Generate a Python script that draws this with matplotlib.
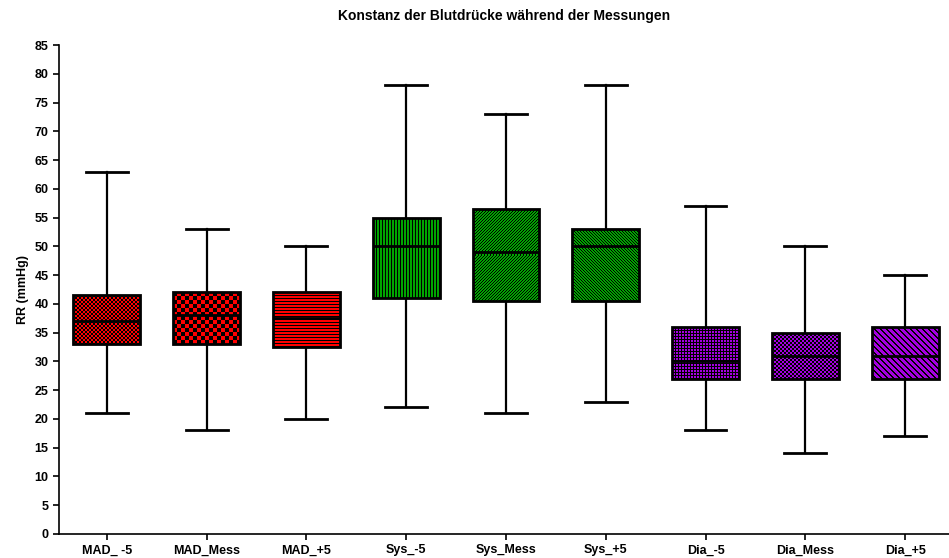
import matplotlib.pyplot as plt
import matplotlib as mpl
import numpy as np
from matplotlib.colors import to_rgba

mpl.rcParams["font.family"] = ["Liberation Sans", "DejaVu Sans"]
mpl.rcParams["font.weight"] = "bold"

# Data
labels = ["MAD_ -5", "MAD_Mess", "MAD_+5", "Sys_-5", "Sys_Mess", "Sys_+5",
          "Dia_-5", "Dia_Mess", "Dia_+5"]
whislo = [21, 18, 20, 22, 21, 23, 18, 14, 17]
q1 = [33, 33, 32.5, 41, 40.5, 40.5, 27, 27, 27]
med = [37, 38, 37.5, 50, 49, 50, 30, 31, 31]
q3 = [41.5, 42, 42, 55, 56.5, 53, 36, 35, 36]
whishi = [63, 53, 50, 78, 73, 78, 57, 50, 45]

colors = ["#ff0000"] * 3 + ["#00a400"] * 3 + ["#a400e0"] * 3
patterns = ["checker2", "checker4", "hlines", "vlines", "diag_up", "diag_down",
            "grid", "checker2", "diag_wide"]
box_width = 0.67


def pattern_image(kind, color, h, w):
    i, j = np.indices((h, w))
    if kind == "checker2":
        m = (i // 2 + j // 2) % 2 == 0
    elif kind == "checker4":
        m = (i // 4 + j // 4) % 2 == 0
    elif kind == "hlines":
        m = i % 3 == 0
    elif kind == "vlines":
        m = j % 3 == 0
    elif kind == "diag_up":
        m = (i + j) % 3 == 0
    elif kind == "diag_down":
        m = (j - i) % 3 == 0
    elif kind == "grid":
        m = (i % 3 == 0) | (j % 3 == 0)
    else:
        m = (j - i) % 6 < 2
    img = np.empty((h, w, 4))
    img[:] = to_rgba(color)
    img[m] = (0, 0, 0, 1)
    return img


stats = []
for i, lab in enumerate(labels):
    stats.append({"label": lab, "whislo": whislo[i], "q1": q1[i], "med": med[i],
                  "q3": q3[i], "whishi": whishi[i], "fliers": []})

fig = plt.figure(figsize=(9.49, 5.58), dpi=100)
ax = fig.add_axes([59 / 949, 24 / 558, 890 / 949, 489 / 558])

positions = list(range(1, len(labels) + 1))
bp = ax.bxp(stats, positions=positions, widths=box_width, patch_artist=True,
            showfliers=False,
            boxprops=dict(linewidth=2, edgecolor="black", facecolor="none", zorder=3),
            medianprops=dict(color="black", linewidth=2, zorder=4),
            whiskerprops=dict(color="black", linewidth=1.6),
            capprops=dict(color="black", linewidth=2),
            capwidths=0.42)

ax.set_xlim(0.52, 9.44)
ax.set_ylim(0, 85)

# pixel patterns inside the boxes
for k, patch in enumerate(bp["boxes"]):
    x0, x1 = positions[k] - box_width / 2, positions[k] + box_width / 2
    p0, p1 = ax.transData.transform([(x0, q1[k]), (x1, q3[k])])
    w_px = max(int(round(p1[0] - p0[0])), 1)
    h_px = max(int(round(p1[1] - p0[1])), 1)
    img = pattern_image(patterns[k], colors[k], h_px, w_px)
    im = ax.imshow(img, extent=(x0, x1, q1[k], q3[k]), interpolation="nearest",
                   aspect="auto", zorder=2)
    im.set_clip_path(patch)

ax.set_xlim(0.52, 9.44)
ax.set_ylim(0, 85)
ax.set_yticks(range(0, 86, 5))
ax.set_xticks(positions)
ax.set_xticklabels(labels)
ax.tick_params(axis="both", labelsize=9, width=1.2, length=4, direction="out")
for s in ["top", "right"]:
    ax.spines[s].set_visible(False)
for s in ["left", "bottom"]:
    ax.spines[s].set_linewidth(1.2)

ax.set_ylabel("RR (mmHg)", fontsize=9, fontweight="bold")
fig.suptitle("Konstanz der Blutdrücke während der Messungen", fontsize=10,
             fontweight="bold", y=1 - 16 / 558, va="center", x=(59 + 949) / 2 / 949)

fig.savefig("out.png", dpi=100)
